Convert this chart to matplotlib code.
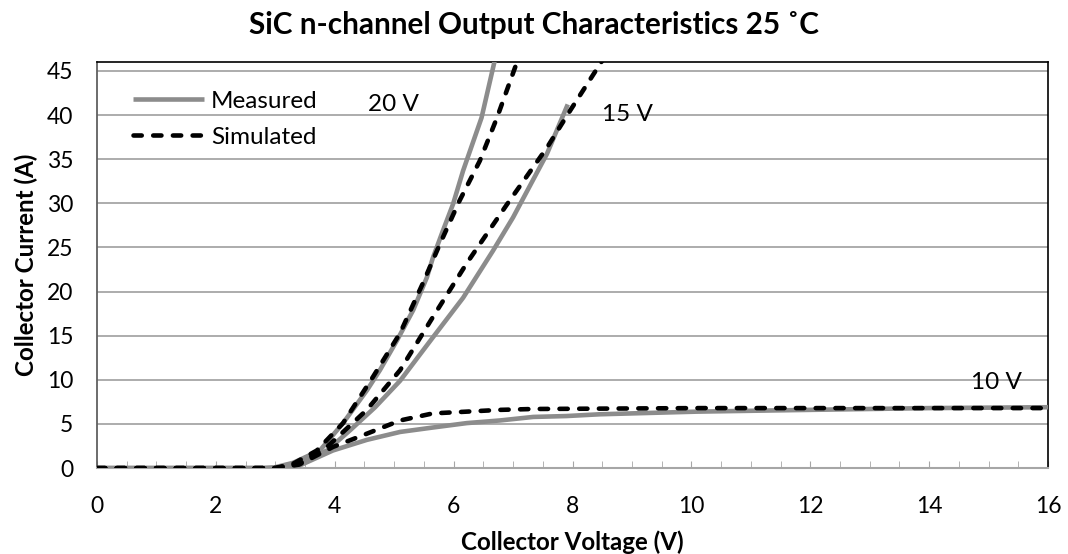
#!/usr/bin/env python3
"""SiC n-channel output characteristics at 25 C - measured vs simulated"""

import matplotlib
matplotlib.use('Agg')
import matplotlib.pyplot as plt
from matplotlib.ticker import MultipleLocator

# ---- data ----
meas_20_v = [0, 1, 2, 2.8, 3.0, 3.3, 3.75, 4.14, 4.54, 4.76, 5.05, 5.32, 5.55, 5.65, 5.82, 5.99, 6.16, 6.47, 6.72]
meas_20_i = [0, 0, 0, 0, 0.1, 0.6, 2.0, 5.1, 8.8, 11.1, 14.5, 17.9, 21.6, 23.8, 26.9, 29.9, 33.7, 39.7, 47.0]
sim_20_v = [0, 1, 2, 2.8, 3.0, 3.3, 3.7, 4.14, 4.64, 5.1, 5.48, 5.77, 6.1, 6.44, 6.73, 7.12]
sim_20_i = [0, 0, 0, 0, 0, 0.5, 2.0, 5.1, 10.3, 15.3, 20.9, 25.4, 30.3, 34.8, 39.7, 47.0]

meas_15_v = [0, 1, 2, 2.8, 3.0, 3.4, 3.87, 4.26, 4.68, 5.1, 5.65, 6.16, 6.66, 7.0, 7.57, 7.92]
meas_15_i = [0, 0, 0, 0, 0, 0.5, 2.0, 4.3, 6.9, 9.9, 14.8, 19.3, 24.6, 28.4, 35.6, 41.2]
sim_15_v = [0, 1, 2, 2.8, 3.0, 3.4, 3.87, 4.54, 5.1, 5.65, 6.22, 6.9, 7.57, 7.96, 8.58]
sim_15_i = [0, 0, 0, 0, 0, 0.5, 2.4, 6.6, 11.1, 17.1, 23.2, 29.9, 36.3, 40.5, 47.0]

meas_10_v = [0, 1, 2, 2.8, 3.0, 3.41, 3.97, 4.54, 5.1, 5.65, 6.22, 6.78, 7.34, 7.9, 8.46, 9.0, 10.1, 12, 14, 16]
meas_10_i = [0, 0, 0, 0, 0, 0.3, 2.0, 3.2, 4.1, 4.6, 5.1, 5.4, 5.8, 5.9, 6.1, 6.2, 6.4, 6.6, 6.8, 6.9]
sim_10_v = [0, 1, 2, 2.8, 3.0, 3.4, 3.97, 4.54, 5.1, 5.65, 6.22, 6.78, 7.34, 10.1, 13, 16]
sim_10_i = [0, 0, 0, 0, 0, 0.4, 2.4, 3.9, 5.4, 6.2, 6.4, 6.6, 6.7, 6.8, 6.8, 6.8]

gate_labels = ['20 V', '15 V', '10 V']
gate_label_pos = [(4.56, 41.2), (8.5, 40.1), (14.7, 9.7)]

GRAY = '#8c8c8c'
FONT = ['Lato', 'DejaVu Sans']

plt.rcParams['font.family'] = FONT

fig = plt.figure(figsize=(10.68, 5.54), dpi=100)
ax = fig.add_axes([0.0908, 0.155, 0.8905, 0.733])

meas_style = dict(color=GRAY, lw=3.3, solid_capstyle='butt', zorder=3)
sim_style = dict(color='black', lw=3.3, dashes=(1.8, 2.5), dash_capstyle='round', zorder=4)

ax.plot(meas_20_v, meas_20_i, label='Measured', **meas_style)
ax.plot(sim_20_v, sim_20_i, label='Simulated', **sim_style)
ax.plot(meas_15_v, meas_15_i, **meas_style)
ax.plot(sim_15_v, sim_15_i, **sim_style)
ax.plot(meas_10_v, meas_10_i, **meas_style)
ax.plot(sim_10_v, sim_10_i, **sim_style)

for txt, (x, y) in zip(gate_labels, gate_label_pos):
    ax.text(x, y, txt, fontsize=17.5, ha='left', va='center')

ax.set_xlim(0, 16)
ax.set_ylim(0, 46)
ax.xaxis.set_major_locator(MultipleLocator(2))
ax.xaxis.set_minor_locator(MultipleLocator(0.5))
ax.yaxis.set_major_locator(MultipleLocator(5))

ax.grid(axis='y', color='#a6a6a6', lw=1.3, zorder=0)
ax.tick_params(axis='x', which='both', direction='in', length=5, color='#a6a6a6',
               pad=20, labelsize=16.5)
ax.tick_params(axis='y', length=0, pad=17, labelsize=16.5)

for side in ['top', 'right']:
    ax.spines[side].set_color('black')
    ax.spines[side].set_linewidth(1.2)
ax.spines['left'].set_color('#606060')
ax.spines['left'].set_linewidth(1.3)
ax.spines['bottom'].set_color('#a6a6a6')
ax.spines['bottom'].set_linewidth(1.5)

ax.set_xlabel('Collector Voltage (V)', fontsize=17.4, fontweight='bold', labelpad=10)
ax.set_ylabel('Collector Current (A)', fontsize=17.4, fontweight='bold', labelpad=6)
fig.suptitle('SiC n-channel Output Characteristics 25 \u02daC', fontsize=21.4,
             fontweight='bold', x=0.5, y=0.955, va='center')

ax.legend(loc='upper left', frameon=False, fontsize=17.5, handlelength=2.9,
          handletextpad=0.3, labelspacing=0.62, borderaxespad=0.0,
          bbox_to_anchor=(0.028, 0.953))

plt.savefig('out.png', dpi=100)
